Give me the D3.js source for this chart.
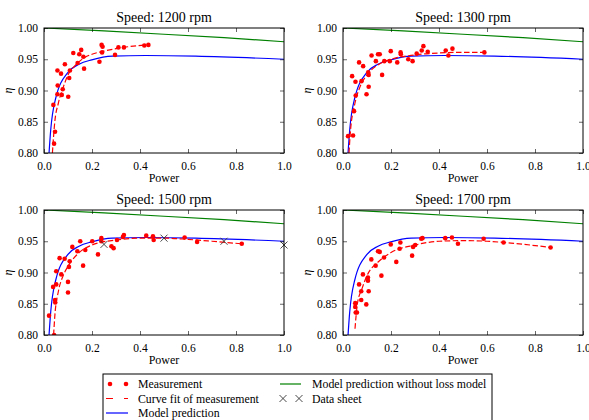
<!DOCTYPE html>
<html>
<head>
<meta charset="utf-8">
<script src="https://cdn.jsdelivr.net/npm/d3@7"></script>
<style>
  body { margin: 0; background: #fff; }
  svg text { font-family: "Liberation Serif", "DejaVu Serif", serif; fill: #000; }
</style>
</head>
<body>
<svg id="chart" width="589" height="420"></svg>
<script>
// measured efficiency points [power, eta]
const meas1200 = [[0.042,0.815],[0.046,0.834],[0.039,0.877],[0.056,0.894],[0.057,0.908],[0.074,0.893],
  [0.078,0.902],[0.101,0.890],[0.056,0.932],[0.071,0.927],[0.087,0.942],[0.108,0.932],[0.105,0.920],
  [0.122,0.960],[0.140,0.944],[0.147,0.958],[0.155,0.965],[0.164,0.954],[0.167,0.935],[0.231,0.946],
  [0.240,0.973],[0.244,0.970],[0.242,0.961],[0.296,0.957],[0.310,0.969],[0.333,0.969],[0.418,0.972],[0.435,0.973]];
const meas1300 = [[0.021,0.827],[0.042,0.828],[0.046,0.867],[0.053,0.892],[0.052,0.914],[0.038,0.923],
  [0.077,0.915],[0.067,0.945],[0.084,0.939],[0.098,0.894],[0.107,0.906],[0.105,0.929],[0.107,0.925],
  [0.119,0.956],[0.137,0.947],[0.146,0.958],[0.153,0.958],[0.163,0.925],[0.172,0.947],[0.199,0.963],
  [0.195,0.947],[0.226,0.945],[0.240,0.961],[0.241,0.958],[0.272,0.950],[0.290,0.947],[0.307,0.959],
  [0.328,0.964],[0.335,0.971],[0.353,0.962],[0.428,0.964],[0.439,0.956],[0.456,0.967],[0.589,0.961]];
const meas1500 = [[0.021,0.831],[0.038,0.877],[0.042,0.800],[0.046,0.856],[0.047,0.852],[0.051,0.902],
  [0.051,0.881],[0.065,0.923],[0.072,0.897],[0.086,0.922],[0.100,0.868],[0.100,0.885],[0.104,0.909],
  [0.107,0.918],[0.118,0.941],[0.139,0.934],[0.151,0.950],[0.163,0.911],[0.172,0.936],[0.201,0.950],
  [0.225,0.929],[0.239,0.955],[0.239,0.950],[0.281,0.942],[0.290,0.939],[0.304,0.952],[0.329,0.957],
  [0.333,0.960],[0.426,0.959],[0.454,0.958],[0.457,0.952],[0.586,0.956],[0.638,0.949],[0.824,0.946]];
const meas1700 = [[0.051,0.851],[0.051,0.845],[0.053,0.836],[0.058,0.836],[0.067,0.881],[0.076,0.870],
  [0.076,0.856],[0.083,0.897],[0.097,0.849],[0.104,0.892],[0.104,0.887],[0.107,0.870],[0.118,0.921],
  [0.136,0.911],[0.146,0.934],[0.153,0.933],[0.160,0.895],[0.171,0.924],[0.199,0.945],[0.222,0.917],
  [0.236,0.938],[0.239,0.948],[0.288,0.927],[0.292,0.941],[0.301,0.944],[0.326,0.954],[0.331,0.955],
  [0.426,0.955],[0.454,0.956],[0.479,0.946],[0.586,0.954],[0.669,0.948],[0.865,0.940]];

// curve fits of measurement
const fit1200 = [[0.035,0.80],[0.045,0.85],[0.06,0.88],[0.08,0.905],[0.1,0.925],[0.13,0.94],[0.17,0.953],
  [0.2,0.958],[0.25,0.963],[0.3,0.967],[0.35,0.970],[0.43,0.973]];
const fit1300 = [[0.025,0.80],[0.03,0.83],[0.05,0.88],[0.07,0.905],[0.1,0.925],[0.15,0.942],[0.2,0.950],
  [0.3,0.957],[0.4,0.960],[0.5,0.961],[0.59,0.961]];
const fit1500 = [[0.04,0.80],[0.045,0.83],[0.06,0.87],[0.08,0.895],[0.1,0.91],[0.15,0.933],[0.2,0.944],
  [0.3,0.952],[0.4,0.955],[0.5,0.955],[0.6,0.953],[0.7,0.950],[0.82,0.946]];
const fit1700 = [[0.05,0.81],[0.06,0.85],[0.08,0.875],[0.1,0.895],[0.15,0.918],[0.2,0.932],[0.3,0.944],
  [0.4,0.950],[0.5,0.951],[0.6,0.950],[0.7,0.947],[0.87,0.940]];

// model prediction (with and without loss model)
const model = [[0.021,0.80],[0.028,0.837],[0.049,0.888],[0.10,0.929],[0.146,0.942],[0.199,0.949],
  [0.285,0.955],[0.424,0.956],[0.632,0.955],[1.0,0.950]];
const modelNoLoss = [[0,1.0],[0.25,0.9955],[0.5,0.990],[0.75,0.9845],[1.0,0.978]];

// data sheet values (1500 rpm only)
const dataSheet1500 = [[0.25,0.945],[0.5,0.955],[0.75,0.950],[1.0,0.944]];

const speeds = [1200, 1300, 1500, 1700];
const measured = [meas1200, meas1300, meas1500, meas1700];
const fits = [fit1200, fit1300, fit1500, fit1700];
const sheets = [[], [], dataSheet1500, []];

const xTicks = [0, 0.2, 0.4, 0.6, 0.8, 1.0];
const yTicks = [0.80, 0.85, 0.90, 0.95, 1.00];

const FONT = "Liberation Serif";
const svg = d3.select("#chart");
const W = 240, H = 125;
const origins = [[44, 28], [343, 28], [44, 210], [343, 210]];

speeds.forEach((spd, i) => {
  const [ox, oy] = origins[i];
  const g = svg.append("g").attr("transform", `translate(${ox},${oy})`);

  const x = d3.scaleLinear().domain([0, 1]).range([0, W]);
  const y = d3.scaleLinear().domain([0.8, 1.0]).range([H, 0]);

  g.append("clipPath").attr("id", "clip" + i)
    .append("rect").attr("width", W).attr("height", H);

  const line = d3.line().x(d => x(d[0])).y(d => y(d[1]));
  const smooth = d3.line().curve(d3.curveMonotoneX).x(d => x(d[0])).y(d => y(d[1]));
  const plot = g.append("g").attr("clip-path", `url(#clip${i})`);

  plot.append("path").datum(modelNoLoss).attr("d", line)
    .attr("fill", "none").attr("stroke", "#008000").attr("stroke-width", 1.2);
  plot.append("path").datum(model).attr("d", smooth)
    .attr("fill", "none").attr("stroke", "#0000ff").attr("stroke-width", 1.2);
  plot.append("path").datum(fits[i]).attr("d", smooth)
    .attr("fill", "none").attr("stroke", "#ff0000").attr("stroke-width", 1.2)
    .attr("stroke-dasharray", "5.5,2.5");

  plot.selectAll("circle").data(measured[i]).join("circle")
    .attr("cx", d => x(d[0])).attr("cy", d => y(d[1])).attr("r", 2.3)
    .attr("fill", "#ff0000");

  g.selectAll("path.sheet").data(sheets[i]).join("path")
    .attr("class", "sheet")
    .attr("d", d => { const cx = x(d[0]), cy = y(d[1]), s = 3.5;
      return `M${cx-s},${cy-s}L${cx+s},${cy+s}M${cx-s},${cy+s}L${cx+s},${cy-s}`; })
    .attr("stroke", "#333").attr("stroke-width", 0.9).attr("fill", "none");

  // axes, classic style with inward ticks on all sides
  const xAxis = g.append("g").attr("transform", `translate(0,${H})`)
    .call(d3.axisBottom(x).tickValues(xTicks).tickFormat(d3.format(".1f")).tickSize(-4).tickPadding(7));
  const xTop = g.append("g").call(d3.axisTop(x).tickValues(xTicks).tickFormat("").tickSize(-4));
  const yAxis = g.append("g")
    .call(d3.axisLeft(y).tickValues(yTicks).tickFormat(d3.format(".2f")).tickSize(-4).tickPadding(6));
  const yRight = g.append("g").attr("transform", `translate(${W},0)`)
    .call(d3.axisRight(y).tickValues(yTicks).tickFormat("").tickSize(-4));
  [xAxis, xTop, yAxis, yRight].forEach(a => {
    a.attr("font-family", FONT).attr("font-size", 11.5);
    a.select(".domain").remove();
    a.selectAll(".tick line").attr("stroke", "#000").attr("stroke-width", 0.6);
  });
  xAxis.selectAll(".tick text").attr("dy", "0.85em");

  g.append("rect").attr("width", W).attr("height", H)
    .attr("fill", "none").attr("stroke", "#000").attr("stroke-width", 1);

  g.append("text").attr("x", W / 2).attr("y", -6).attr("text-anchor", "middle")
    .attr("font-size", 14).text(`Speed: ${spd} rpm`);
  g.append("text").attr("x", W / 2).attr("y", H + 29).attr("text-anchor", "middle")
    .attr("font-size", 12).text("Power");
  g.append("text").attr("transform", `translate(${-32},${H / 2}) rotate(-90)`)
    .attr("text-anchor", "middle").attr("font-size", 12).attr("font-style", "italic").text("η");
});

// legend
const lg = svg.append("g");
lg.append("rect").attr("x", 103).attr("y", 374).attr("width", 389).attr("height", 60)
  .attr("fill", "#fff").attr("stroke", "#000").attr("stroke-width", 1);
const rows = [384, 398.5, 413];
const lt = (x0, yy, s) => lg.append("text").attr("x", x0).attr("y", yy).attr("dy", "0.35em")
  .attr("font-size", 11.8).text(s);
lg.selectAll("circle").data([110, 126]).join("circle")
  .attr("cx", d => d).attr("cy", rows[0]).attr("r", 2.3).attr("fill", "#ff0000");
lt(138, rows[0], "Measurement");
lg.append("line").attr("x1", 106).attr("x2", 128).attr("y1", rows[1]).attr("y2", rows[1])
  .attr("stroke", "#ff0000").attr("stroke-width", 1.2).attr("stroke-dasharray", "7,11");
lt(138, rows[1], "Curve fit of measurement");
lg.append("line").attr("x1", 106).attr("x2", 128).attr("y1", rows[2]).attr("y2", rows[2])
  .attr("stroke", "#0000ff").attr("stroke-width", 1.2);
lt(138, rows[2], "Model prediction");
lg.append("line").attr("x1", 280).attr("x2", 301).attr("y1", rows[0]).attr("y2", rows[0])
  .attr("stroke", "#008000").attr("stroke-width", 1.2);
lt(312, rows[0], "Model prediction without loss model");
[283, 299].forEach(cx => {
  const s = 3.5, cy = rows[1];
  lg.append("path").attr("d", `M${cx-s},${cy-s}L${cx+s},${cy+s}M${cx-s},${cy+s}L${cx+s},${cy-s}`)
    .attr("stroke", "#333").attr("stroke-width", 0.9);
});
lt(312, rows[1], "Data sheet");
</script>
</body>
</html>
